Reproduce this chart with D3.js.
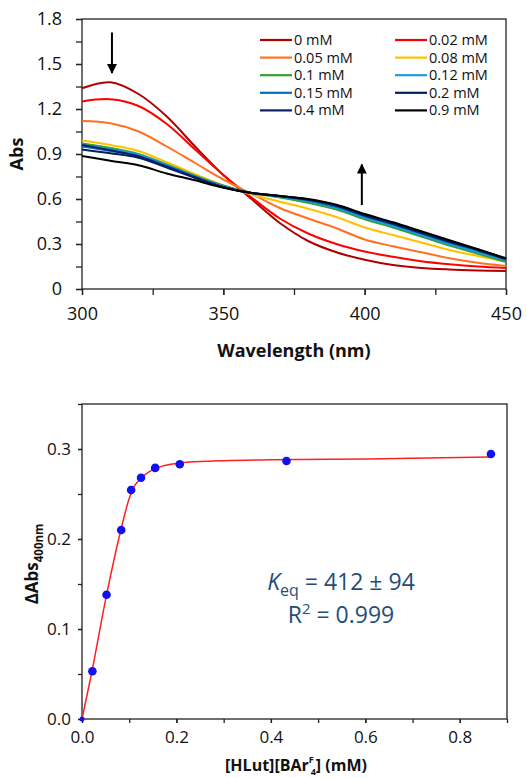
<!DOCTYPE html>
<html>
<head>
    <title>UV-vis titration</title>
    <script src="https://d3js.org/d3.v7.min.js"></script>
    <style>
        body { margin: 0; background: #ffffff; }
        svg text { font-family: 'Open Sans', 'DejaVu Sans', sans-serif; }
    </style>
</head>
<body>
    <div id="chart"></div>

    <script>
        // ---- top panel: spectra ----
        const wavelengths = [300, 310, 320, 330, 340, 350, 360, 370, 380, 390, 400, 410, 420, 430, 440, 450];
        const concLabels = ['0 mM', '0.02 mM', '0.05 mM', '0.08 mM', '0.1 mM', '0.12 mM', '0.15 mM', '0.2 mM', '0.4 mM', '0.9 mM'];
        const concColors = ['#B00000', '#FF0000', '#FF7020', '#FFC000', '#33A02C', '#1E9BE0', '#0070C0', '#001E5A', '#0A1F6E', '#000000'];
        const abs0   = [1.338, 1.378, 1.30, 1.15, 0.95, 0.76, 0.60, 0.44, 0.32, 0.245, 0.195, 0.16, 0.14, 0.13, 0.124, 0.12];
        const abs002 = [1.25, 1.265, 1.22, 1.10, 0.93, 0.76, 0.61, 0.47, 0.37, 0.30, 0.25, 0.215, 0.185, 0.165, 0.15, 0.14];
        const abs005 = [1.12, 1.105, 1.05, 0.95, 0.84, 0.73, 0.635, 0.54, 0.47, 0.405, 0.33, 0.285, 0.245, 0.205, 0.175, 0.153];
        const abs008 = [0.99, 0.96, 0.92, 0.845, 0.765, 0.69, 0.63, 0.582, 0.535, 0.48, 0.41, 0.36, 0.31, 0.26, 0.22, 0.182];
        const abs010 = [0.97, 0.94, 0.90, 0.83, 0.755, 0.69, 0.64, 0.61, 0.575, 0.53, 0.465, 0.41, 0.35, 0.29, 0.235, 0.18];
        const abs012 = [0.96, 0.93, 0.895, 0.825, 0.75, 0.685, 0.64, 0.615, 0.585, 0.54, 0.475, 0.42, 0.36, 0.30, 0.245, 0.19];
        const abs015 = [0.95, 0.92, 0.885, 0.82, 0.745, 0.68, 0.64, 0.618, 0.59, 0.548, 0.485, 0.43, 0.37, 0.31, 0.255, 0.195];
        const abs020 = [0.93, 0.905, 0.875, 0.81, 0.74, 0.678, 0.64, 0.62, 0.595, 0.555, 0.49, 0.435, 0.375, 0.315, 0.26, 0.20];
        const abs040 = [0.96, 0.925, 0.885, 0.815, 0.745, 0.68, 0.64, 0.62, 0.597, 0.558, 0.495, 0.44, 0.38, 0.32, 0.265, 0.20];
        const abs090 = [0.887, 0.855, 0.825, 0.77, 0.725, 0.675, 0.64, 0.62, 0.60, 0.562, 0.50, 0.445, 0.385, 0.325, 0.265, 0.205];
        const spectra = [abs0, abs002, abs005, abs008, abs010, abs012, abs015, abs020, abs040, abs090];
        const yTicksTop = [0, 0.3, 0.6, 0.9, 1.2, 1.5, 1.8];
        const xTicksTop = [300, 350, 400, 450];
        // arrows: [wavelength, from, to]
        const arrows = [[310.6, 1.71, 1.44], [399, 0.56, 0.83]];

        // ---- bottom panel: titration ----
        const titrConc = [0, 0.022, 0.052, 0.083, 0.104, 0.125, 0.155, 0.207, 0.433, 0.866];
        const deltaAbs = [0, 0.053, 0.138, 0.21, 0.2545, 0.268, 0.279, 0.283, 0.2867, 0.2944];
        const fitX = [0, 0.02, 0.05, 0.08, 0.1, 0.11, 0.12, 0.13, 0.15, 0.17, 0.2, 0.25, 0.3, 0.4, 0.6, 0.866];
        const fitY = [0, 0.05, 0.1326, 0.205, 0.245, 0.258, 0.265, 0.270, 0.277, 0.281, 0.284, 0.286, 0.287, 0.288, 0.289, 0.291];
        const yTicksBot = [0, 0.1, 0.2, 0.3];
        const xTicksBot = [0, 0.2, 0.4, 0.6, 0.8];

        const svg = d3.select('#chart').append('svg')
            .attr('width', 527)
            .attr('height', 778);

        // ================= top chart =================
        const t = { left: 82, right: 506, top: 19, bottom: 289 };
        const x1 = d3.scaleLinear().domain([300, 450]).range([t.left, t.right]);
        const y1 = d3.scaleLinear().domain([0, 1.8]).range([t.bottom, t.top]);

        const topG = svg.append('g');

        topG.append('rect')
            .attr('x', t.left).attr('y', t.top)
            .attr('width', t.right - t.left).attr('height', t.bottom - t.top)
            .attr('fill', 'none').attr('stroke', '#222').attr('stroke-width', 1.3);

        // minor ticks
        topG.append('g').attr('transform', `translate(0,${t.bottom})`)
            .call(d3.axisBottom(x1).tickValues(d3.range(300, 451, 25)).tickSize(6).tickFormat(''))
            .call(g => g.select('.domain').remove());
        topG.append('g').attr('transform', `translate(${t.left},0)`)
            .call(d3.axisLeft(y1).tickValues(d3.range(0, 1.81, 0.15)).tickSize(6).tickFormat(''))
            .call(g => g.select('.domain').remove());

        const xa1 = topG.append('g').attr('transform', `translate(0,${t.bottom})`)
            .call(d3.axisBottom(x1).tickValues(xTicksTop).tickSize(6).tickPadding(12));
        xa1.select('.domain').remove();
        xa1.selectAll('text').attr('font-size', 18).attr('fill', '#111');

        const ya1 = topG.append('g').attr('transform', `translate(${t.left},0)`)
            .call(d3.axisLeft(y1).tickValues(yTicksTop).tickSize(6).tickPadding(14)
                .tickFormat(d => d === 0 ? '0' : d3.format('.1f')(d)));
        ya1.select('.domain').remove();
        ya1.selectAll('text').attr('font-size', 18).attr('fill', '#111');
        topG.selectAll('.tick line').attr('stroke', '#222').attr('stroke-width', 1.3);

        const line1 = d3.line()
            .x((d, i) => x1(wavelengths[i]))
            .y(d => y1(d))
            .curve(d3.curveCatmullRom);

        topG.append('g').selectAll('path')
            .data(spectra)
            .enter().append('path')
            .attr('d', line1)
            .attr('fill', 'none')
            .attr('stroke', (d, i) => concColors[i])
            .attr('stroke-width', 2);

        // arrows
        svg.append('defs').append('marker')
            .attr('id', 'head')
            .attr('viewBox', '0 0 10 10')
            .attr('refX', 9).attr('refY', 5)
            .attr('markerWidth', 5).attr('markerHeight', 5)
            .attr('orient', 'auto')
            .append('path').attr('d', 'M0,0 L10,5 L0,10 z').attr('fill', '#000');

        topG.append('g').selectAll('line')
            .data(arrows)
            .enter().append('line')
            .attr('x1', d => x1(d[0])).attr('x2', d => x1(d[0]))
            .attr('y1', d => y1(d[1])).attr('y2', d => y1(d[2]))
            .attr('stroke', '#000').attr('stroke-width', 2)
            .attr('marker-end', 'url(#head)');

        // legend
        const legend = topG.append('g');
        concLabels.forEach((lab, i) => {
            const col = i % 2, row = Math.floor(i / 2);
            const lx = col === 0 ? 260 : 395;
            const ly = 40 + row * 17.6;
            legend.append('line')
                .attr('x1', lx).attr('x2', lx + 32)
                .attr('y1', ly).attr('y2', ly)
                .attr('stroke', concColors[i]).attr('stroke-width', 2.2);
            legend.append('text')
                .attr('x', lx + 34).attr('y', ly + 5)
                .attr('font-size', 14.5).attr('fill', '#111')
                .text(lab);
        });

        topG.append('text')
            .attr('x', (t.left + t.right) / 2).attr('y', 357)
            .attr('text-anchor', 'middle')
            .attr('font-size', 18).attr('font-weight', 'bold').attr('fill', '#111')
            .text('Wavelength (nm)');

        topG.append('text')
            .attr('transform', 'translate(23,154) rotate(-90)')
            .attr('text-anchor', 'middle')
            .attr('font-size', 18).attr('font-weight', 'bold').attr('fill', '#111')
            .text('Abs');

        // ================= bottom chart =================
        const b = { left: 82, right: 507, top: 404, bottom: 719 };
        const x2 = d3.scaleLinear().domain([0, 0.9]).range([b.left, b.right]);
        const y2 = d3.scaleLinear().domain([0, 0.35]).range([b.bottom, b.top]);

        const botG = svg.append('g');

        botG.append('rect')
            .attr('x', b.left).attr('y', b.top)
            .attr('width', b.right - b.left).attr('height', b.bottom - b.top)
            .attr('fill', 'none').attr('stroke', '#222').attr('stroke-width', 1.3);

        botG.append('g').attr('transform', `translate(0,${b.bottom})`)
            .call(d3.axisBottom(x2).tickValues(d3.range(0, 0.91, 0.1)).tickSize(4).tickFormat(''))
            .call(g => g.select('.domain').remove());
        botG.append('g').attr('transform', `translate(${b.left},0)`)
            .call(d3.axisLeft(y2).tickValues(d3.range(0, 0.351, 0.05)).tickSize(4).tickFormat(''))
            .call(g => g.select('.domain').remove());

        const xa2 = botG.append('g').attr('transform', `translate(0,${b.bottom})`)
            .call(d3.axisBottom(x2).tickValues(xTicksBot).tickSize(4).tickPadding(8).tickFormat(d3.format('.1f')));
        xa2.select('.domain').remove();
        xa2.selectAll('text').attr('font-size', 17).attr('fill', '#111');

        const ya2 = botG.append('g').attr('transform', `translate(${b.left},0)`)
            .call(d3.axisLeft(y2).tickValues(yTicksBot).tickSize(4).tickPadding(7).tickFormat(d3.format('.1f')));
        ya2.select('.domain').remove();
        ya2.selectAll('text').attr('font-size', 17).attr('fill', '#111');
        botG.selectAll('.tick line').attr('stroke', '#222').attr('stroke-width', 1.3);

        const fitLine = d3.line()
            .x((d, i) => x2(fitX[i]))
            .y(d => y2(d))
            .curve(d3.curveMonotoneX);

        botG.append('path')
            .datum(fitY)
            .attr('d', fitLine)
            .attr('fill', 'none')
            .attr('stroke', '#FF2020')
            .attr('stroke-width', 1.5);

        botG.append('g').selectAll('circle')
            .data(deltaAbs)
            .enter().append('circle')
            .attr('cx', (d, i) => x2(titrConc[i]))
            .attr('cy', d => y2(d))
            .attr('r', d => d === 0 ? 2.5 : 4.3)
            .attr('fill', '#1010F0');

        const ann = botG.append('text')
            .attr('x', 341).attr('y', 590)
            .attr('text-anchor', 'middle')
            .attr('font-size', 23).attr('fill', '#1F4E79');
        ann.append('tspan').attr('font-style', 'italic').text('K');
        ann.append('tspan').attr('font-size', 16).attr('dy', 6).text('eq');
        ann.append('tspan').attr('dy', -6).text(' = 412 ± 94');

        const ann2 = botG.append('text')
            .attr('x', 341).attr('y', 623)
            .attr('text-anchor', 'middle')
            .attr('font-size', 23).attr('fill', '#1F4E79');
        ann2.append('tspan').text('R');
        ann2.append('tspan').attr('font-size', 15).attr('dy', -9).text('2');
        ann2.append('tspan').attr('dy', 9).text(' = 0.999');

        const yt = botG.append('text')
            .attr('transform', 'translate(38,564) rotate(-90)')
            .attr('text-anchor', 'middle')
            .attr('font-size', 17).attr('font-weight', 'bold').attr('fill', '#111');
        yt.append('tspan').text('ΔAbs');
        yt.append('tspan').attr('font-size', 11.5).attr('dy', 5).text('400nm');

        const xt = botG.append('text')
            .attr('x', 296).attr('y', 771)
            .attr('text-anchor', 'middle')
            .attr('font-size', 16).attr('font-weight', 'bold').attr('fill', '#111');
        xt.append('tspan').text('[HLut][BAr');
        xt.append('tspan').attr('font-size', 9).attr('dy', -8).text('F');
        xt.append('tspan').attr('font-size', 9).attr('dx', -3).attr('dy', 12).text('4');
        xt.append('tspan').attr('dy', -4).text('] (mM)');
    </script>
</body>
</html>
